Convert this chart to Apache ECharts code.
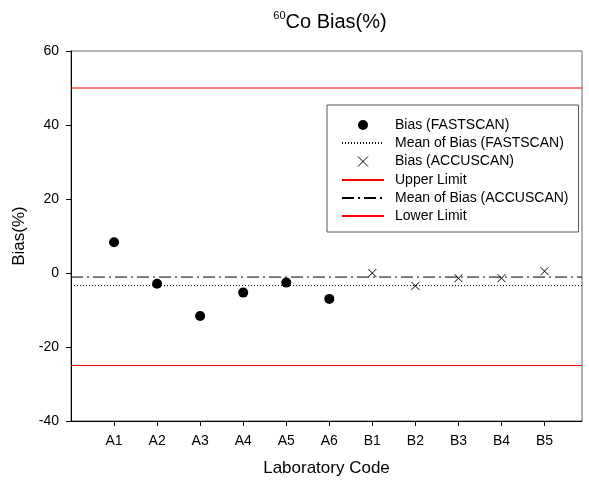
<!DOCTYPE html>
<html>
<head>
<meta charset="utf-8">
<script src="https://cdn.jsdelivr.net/npm/echarts@6/dist/echarts.min.js"></script>
<style>
html,body{margin:0;padding:0;background:#fff;}
#chart{width:589px;height:486px;}
</style>
</head>
<body>
<div id="chart"></div>
<script>
// ---- data ----
var categories = ['A1','A2','A3','A4','A5','A6','B1','B2','B3','B4','B5'];
var fastscanLabs = ['A1','A2','A3','A4','A5','A6'];
var fastscanBias = [8.3, -2.9, -11.6, -5.3, -2.6, -7.0];
var accuscanLabs = ['B1','B2','B3','B4','B5'];
var accuscanBias = [0.0, -3.5, -1.4, -1.4, 0.5];
var meanFastscan = -3.4;
var meanAccuscan = -1.1;
var upperLimit = 50;
var lowerLimit = -25;

// ---- build ----
var FONT = "'Liberation Sans', Arial, sans-serif";
var X_MIN = 0, X_MAX = 11.87;
function pos(lab){ return categories.indexOf(lab) + 1; }
var fastData = fastscanLabs.map(function(l,i){ return [pos(l), fastscanBias[i]]; });
var accuData = accuscanLabs.map(function(l,i){ return [pos(l), accuscanBias[i]]; });
var tickVals = categories.map(function(c,i){ return i + 1; });

var crossPath = 'path://M0,0L10,10M10,0L0,10';
var dotted = [1, 2];
var dashDot = [12, 4, 2, 4];

function hLine(name, value, color, dash){
  return {
    name: name, type: 'line', data: [[X_MIN, value], [X_MAX, value]],
    symbol: 'circle', showSymbol: false, silent: true, z: 3,
    color: color,
    lineStyle: {color: color, width: 1, type: dash, opacity: 1},
    itemStyle: {color: color},
    emphasis: {disabled: true}
  };
}

var chart = echarts.init(document.getElementById('chart'), null, {renderer: 'canvas'});
chart.setOption({
  animation: false,
  backgroundColor: '#fff',
  textStyle: {fontFamily: FONT},
  title: {
    text: '{sup|60}{main|Co Bias(%)}',
    left: 325, top: 5, textAlign: 'center',
    textStyle: {
      fontFamily: FONT, fontWeight: 'normal',
      rich: {
        sup: {fontSize: 11, fontFamily: FONT, fontWeight: 'normal', color: '#000', verticalAlign: 'top', lineHeight: 12},
        main: {fontSize: 20, fontFamily: FONT, fontWeight: 'normal', color: '#000', lineHeight: 24}
      }
    }
  },
  grid: {left: 71, right: 7, top: 51, bottom: 65, show: true, borderColor: '#666', borderWidth: 1, containLabel: false},
  xAxis: {
    type: 'value', min: X_MIN, max: X_MAX,
    name: 'Laboratory Code', nameLocation: 'middle', nameGap: 39,
    nameTextStyle: {fontSize: 17, color: '#000', fontFamily: FONT},
    axisLine: {onZero: false, lineStyle: {color: '#000', width: 1}},
    axisTick: {show: true, length: 5, lineStyle: {color: '#000'}, customValues: tickVals},
    axisLabel: {
      customValues: tickVals, margin: 13, fontSize: 14, color: '#000', fontFamily: FONT,
      formatter: function(v){ return categories[Math.round(v) - 1] || ''; }
    },
    splitLine: {show: false}
  },
  yAxis: {
    type: 'value', min: -40, max: 60, interval: 20,
    name: 'Bias(%)', nameLocation: 'middle', nameGap: 35,
    nameTextStyle: {fontSize: 17, color: '#000', fontFamily: FONT},
    axisLine: {show: true, onZero: false, lineStyle: {color: '#000', width: 1}},
    axisTick: {show: true, length: 5, lineStyle: {color: '#000'}},
    axisLabel: {margin: 12, fontSize: 14, color: '#000', fontFamily: FONT},
    splitLine: {show: false}
  },
  legend: {
    orient: 'vertical', left: 327, top: 105,
    padding: [13, 10, 9, 14],
    borderColor: '#555', borderWidth: 1, backgroundColor: '#fff',
    itemWidth: 42, itemHeight: 10, itemGap: 4,
    selectedMode: false,
    textStyle: {fontSize: 14, color: '#000', fontFamily: FONT, padding: [0, 0, 0, 6]},
    data: [
      {name: 'Bias (FASTSCAN)', itemStyle: {opacity: 1}},
      {name: 'Mean of Bias (FASTSCAN)', itemStyle: {opacity: 0}},
      {name: 'Bias (ACCUSCAN)', itemStyle: {borderWidth: 1, opacity: 1}},
      {name: 'Upper Limit', itemStyle: {opacity: 0}},
      {name: 'Mean of Bias (ACCUSCAN)', itemStyle: {opacity: 0}},
      {name: 'Lower Limit', itemStyle: {opacity: 0}}
    ]
  },
  series: [
    hLine('Upper Limit', upperLimit, '#ff0000', 'solid'),
    hLine('Lower Limit', lowerLimit, '#ff0000', 'solid'),
    hLine('Mean of Bias (FASTSCAN)', meanFastscan, '#000', dotted),
    hLine('Mean of Bias (ACCUSCAN)', meanAccuscan, '#000', dashDot),
    {
      name: 'Bias (FASTSCAN)', type: 'scatter', data: fastData,
      symbol: 'circle', symbolSize: 10, z: 5,
      itemStyle: {color: '#000', opacity: 1}
    },
    {
      name: 'Bias (ACCUSCAN)', type: 'scatter', data: accuData,
      symbol: crossPath, symbolSize: 8, z: 5,
      itemStyle: {color: 'none', borderColor: '#000', borderWidth: 1, opacity: 1}
    }
  ]
});
</script>
</body>
</html>
